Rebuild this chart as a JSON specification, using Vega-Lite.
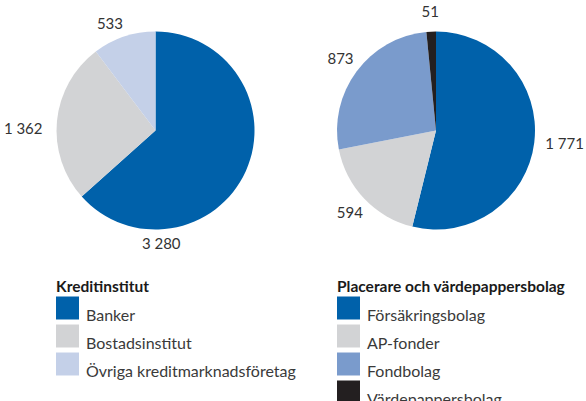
{
  "$schema": "https://vega.github.io/schema/vega-lite/v6.json",
  "padding": 0,
  "background": "white",
  "bounds": "flush",
  "spacing": 0,
  "config": {
    "view": {"stroke": null},
    "font": "Lato",
    "legend": {
      "symbolType": "square",
      "symbolSize": 529,
      "symbolStrokeWidth": 0,
      "symbolOpacity": 1,
      "labelFont": "Lato",
      "labelFontSize": 16,
      "labelColor": "#3a3a3a",
      "labelBaseline": "top",
      "labelOffset": 7,
      "labelLimit": 400,
      "rowPadding": -3,
      "titleFont": "Lato",
      "titleFontSize": 15.5,
      "titleFontWeight": "bold",
      "titleColor": "#1a1a1a",
      "titlePadding": 1,
      "titleLimit": 400,
      "padding": 0
    }
  },
  "resolve": {"scale": {"color": "independent", "theta": "independent"}},
  "hconcat": [
    {
      "width": 311,
      "height": 261,
      "data": {"values": [
        {"kategori": "Banker", "belopp": 3280, "etikett": "3 280", "ordning": 1},
        {"kategori": "Bostadsinstitut", "belopp": 1362, "etikett": "1 362", "ordning": 2},
        {"kategori": "Övriga kreditmarknadsföretag", "belopp": 533, "etikett": "533", "ordning": 3}
      ]},
      "encoding": {
        "theta": {"field": "belopp", "type": "quantitative", "stack": true},
        "order": {"field": "ordning", "type": "quantitative"}
      },
      "layer": [
        {
          "mark": {"type": "arc", "radius": 99},
          "encoding": {
            "color": {
              "field": "kategori", "type": "nominal",
              "scale": {"domain": ["Banker", "Bostadsinstitut", "Övriga kreditmarknadsföretag"], "range": ["#0061aa", "#d2d3d5", "#c4d0e8"]},
              "legend": {"title": "Kreditinstitut", "orient": "none", "legendX": 56, "legendY": 280}
            }
          }
        },
        {
          "mark": {"type": "text", "radius": {"expr": "datum.ordning === 2 ? 113 : 116"}, "thetaOffset": -0.08, "fontSize": 15, "font": "Lato", "color": "#333333",
                   "align": {"expr": "datum.ordning === 2 ? 'right' : 'center'"}},
          "encoding": {
            "text": {"field": "etikett", "type": "nominal"},
            "opacity": {"condition": {"test": "datum.kategori === 'Banker'", "value": 0}, "value": 1}
          }
        },
        {
          "transform": [{"filter": "datum.kategori === 'Banker'"}],
          "mark": {"type": "text", "radius": 114, "thetaOffset": 1.1, "fontSize": 15, "font": "Lato", "color": "#333333"},
          "encoding": {"text": {"field": "etikett", "type": "nominal"}}
        }
      ]
    },
    {
      "width": 250,
      "height": 261,
      "data": {"values": [
        {"kategori": "Försäkringsbolag", "belopp": 1771, "etikett": "1 771", "ordning": 1},
        {"kategori": "AP-fonder", "belopp": 594, "etikett": "594", "ordning": 2},
        {"kategori": "Fondbolag", "belopp": 873, "etikett": "873", "ordning": 3},
        {"kategori": "Värdepappersbolag", "belopp": 51, "etikett": "51", "ordning": 4}
      ]},
      "encoding": {
        "theta": {"field": "belopp", "type": "quantitative", "stack": true},
        "order": {"field": "ordning", "type": "quantitative"}
      },
      "layer": [
        {
          "mark": {"type": "arc", "radius": 99},
          "encoding": {
            "color": {
              "field": "kategori", "type": "nominal",
              "scale": {"domain": ["Försäkringsbolag", "AP-fonder", "Fondbolag", "Värdepappersbolag"], "range": ["#0061aa", "#d2d3d5", "#7a9bcc", "#231f20"]},
              "legend": {"title": "Placerare och värdepappersbolag", "orient": "none", "legendX": 26, "legendY": 280}
            }
          }
        },
        {
          "mark": {"type": "text", "radius": {"expr": "datum.ordning === 1 ? 110 : 119"}, "fontSize": 15, "font": "Lato", "color": "#333333",
                   "align": {"expr": "datum.ordning === 1 ? 'left' : 'center'"}},
          "encoding": {"text": {"field": "etikett", "type": "nominal"}}
        }
      ]
    }
  ]
}
